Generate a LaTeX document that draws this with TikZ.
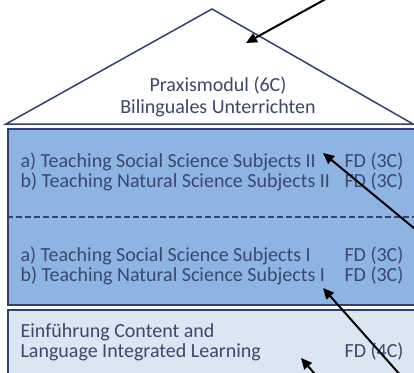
\documentclass[tikz,border=0pt]{standalone}
\usepackage{fontspec}
\setmainfont{Carlito}
\usetikzlibrary{arrows.meta}
\definecolor{txt}{RGB}{59,72,108}
\definecolor{rim}{RGB}{48,66,112}
\definecolor{midblue}{RGB}{142,180,227}
\definecolor{paleblue}{RGB}{220,230,242}

\begin{document}
\begin{tikzpicture}[x=1pt,y=-1pt,>={Triangle[length=11pt,width=10pt]},
	every node/.style={text=txt,font=\fontsize{20}{20}\selectfont},
	box/.style={shape=rectangle,draw=rim,line width=1.5pt,inner sep=0pt,anchor=north west,minimum width=420pt},
	hint/.style={->,line width=2pt,black}]
	\useasboundingbox (0,0) rectangle (414,372);
	% roof
	\coordinate (apex) at (212,9);
	\coordinate (eaveL) at (6,124);
	\coordinate (eaveR) at (413,124);
	\draw[rim,line width=1.5pt,fill=white] (eaveL) -- (apex) -- (eaveR) -- cycle;
	\node (roof) [anchor=base] at (218,91.7) {
		\begin{tabular}[t]{c}
			Praxismodul (6C)\\[1.6pt]
			Bilinguales Unterrichten
		\end{tabular}
	};
	% boxes
	\node (upper) [box,fill=midblue,minimum height=176pt] at (7,128) {};
	\node (lower) [box,fill=paleblue,minimum height=80pt] at (7,309) {};
	\draw[rim,line width=1.5pt,dash pattern=on 6pt off 3pt] (upper.west) -- (upper.east);
	\node (partII) [anchor=base west] at (17,167) {
		\begin{tabular*}{383pt}[t]{@{}l@{\extracolsep{\fill}}r@{}}
			a) Teaching Social Science Subjects II & FD (3C)\\
			b) Teaching Natural Science Subjects II & FD (3C)
		\end{tabular*}
	};
	\node (partI) [anchor=base west] at (17,261) {
		\begin{tabular*}{383pt}[t]{@{}l@{\extracolsep{\fill}}r@{}}
			a) Teaching Social Science Subjects I & FD (3C)\\
			b) Teaching Natural Science Subjects I & FD (3C)
		\end{tabular*}
	};
	\node (clil) [anchor=base west] at (17,337) {
		\begin{tabular*}{383pt}[t]{@{}l@{\extracolsep{\fill}}r@{}}
			Einführung Content and & \\
			Language Integrated Learning & FD (4C)
		\end{tabular*}
	};
	% pointers
	\coordinate (roofTip) at (246,43);
	\coordinate (roofTail) at (342,-10);
	\coordinate (partIITip) at (323,153);
	\coordinate (partIITail) at (432,243);
	\coordinate (partITip) at (323,288);
	\coordinate (partITail) at (410,386);
	\coordinate (clilTip) at (301,358);
	\coordinate (clilTail) at (320,380);
	\draw[hint] (roofTail) -- (roofTip);
	\draw[hint] (partIITail) -- (partIITip);
	\draw[hint] (partITail) -- (partITip);
	\draw[hint] (clilTail) -- (clilTip);
\end{tikzpicture}
\end{document}
